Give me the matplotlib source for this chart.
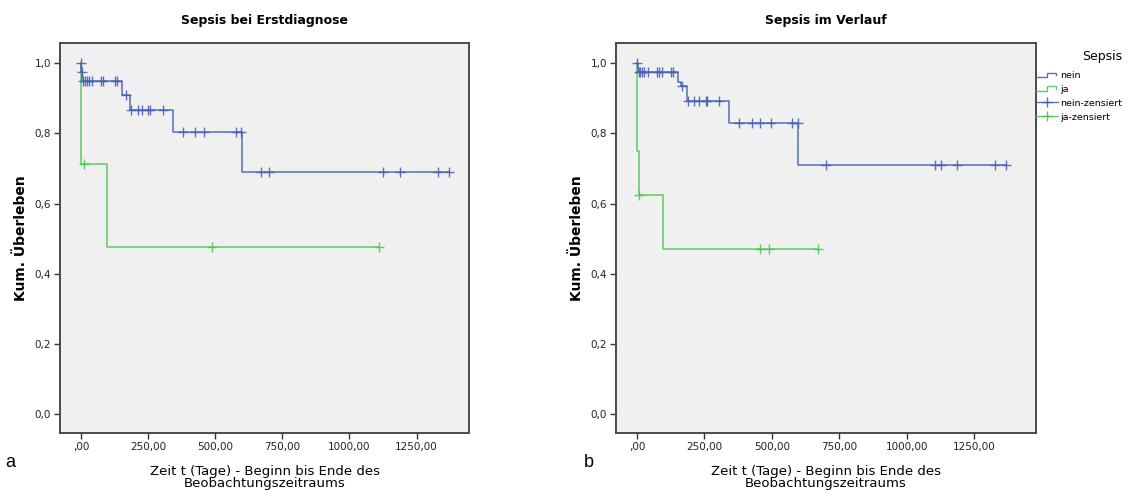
import numpy as np
import matplotlib
matplotlib.use("Agg")
import matplotlib.pyplot as plt
from matplotlib.lines import Line2D
from matplotlib.legend_handler import HandlerBase
from matplotlib.ticker import FuncFormatter, FixedLocator

# Kaplan-Meier step curves: times where the level changes, and the level from that time on
a_nein_t = [0, 2, 4, 152, 184, 342, 599, 1369]
a_nein_s = [1.0, 0.975, 0.950, 0.909, 0.867, 0.805, 0.689, 0.689]
a_nein_cens = [1, 3, 6, 15, 23, 31, 41, 73, 83, 127, 135, 166, 185, 211, 226, 251, 257,
               307, 381, 425, 458, 576, 596, 671, 700, 1126, 1189, 1329, 1369]
a_ja_t = [0, 1, 2, 96, 1110]
a_ja_s = [1.0, 0.857, 0.714, 0.476, 0.476]
a_ja_cens = [11, 489, 1110]

b_nein_t = [0, 3, 153, 163, 184, 342, 598, 1368]
b_nein_s = [1.0, 0.976, 0.947, 0.936, 0.892, 0.829, 0.709, 0.709]
b_nein_cens = [1, 6, 11, 17, 26, 41, 73, 82, 92, 126, 135, 166, 188, 211, 230, 256, 261,
               305, 379, 425, 455, 498, 576, 596, 700, 1105, 1126, 1187, 1328, 1368]
b_ja_t = [0, 0, 1, 6, 98, 672]
b_ja_s = [1.0, 0.875, 0.75, 0.625, 0.47, 0.47]
b_ja_cens = [7, 456, 490, 672]

x_ticks = [0, 250, 500, 750, 1000, 1250]
y_ticks = [0.0, 0.2, 0.4, 0.6, 0.8, 1.0]

BLUE = "#4660b4"
GREEN = "#4fc752"
W, H = 1136, 494


def level_at(t_steps, s_steps, t):
    idx = np.searchsorted(np.asarray(t_steps, float), np.asarray(t, float), side="right") - 1
    return np.asarray(s_steps)[idx]


def km_plot(ax, t, s, cens, color):
    ax.step(t, s, where="post", color=color, lw=1.1, alpha=0.9, zorder=3)
    ax.plot(cens, level_at(t, s, cens), ls="none", marker="+", ms=6.5, mew=1.0,
            color=color, alpha=0.9, zorder=4)


def style_axes(ax, title, xmax):
    ax.set_facecolor("#f0f0f0")
    for sp in ax.spines.values():
        sp.set_color("#4a4a4a")
        sp.set_linewidth(1.4)
    ax.set_xlim(-78, xmax)
    ax.set_ylim(-0.054, 1.058)
    ax.xaxis.set_major_locator(FixedLocator(x_ticks))
    ax.yaxis.set_major_locator(FixedLocator(y_ticks))
    ax.xaxis.set_major_formatter(FuncFormatter(lambda v, p: ("%.2f" % v).replace(".", ",").lstrip("0")))
    ax.yaxis.set_major_formatter(FuncFormatter(lambda v, p: ("%.1f" % v).replace(".", ",")))
    ax.tick_params(direction="out", length=4, width=1.0, color="#333333",
                   labelsize=7.5, labelcolor="#222222", pad=2.5)
    ax.set_title(title, fontsize=9, fontweight="bold", pad=14)
    ax.set_xlabel("Zeit t (Tage) - Beginn bis Ende des\nBeobachtungszeitraums",
                  fontsize=9.5, linespacing=0.95, labelpad=9)
    ax.set_ylabel("Kum. Überleben", fontsize=10, fontweight="bold", labelpad=5)


class StepHandler(HandlerBase):
    # small step glyph for the survival-curve entries
    def create_artists(self, legend, orig_handle, xdescent, ydescent, width, height,
                       fontsize, trans):
        x0 = -xdescent
        xs = [x0, x0 + 0.5 * width, x0 + 0.5 * width, x0 + 0.92 * width, x0 + 0.92 * width]
        ys = [0.15 * height, 0.15 * height, 0.85 * height, 0.85 * height, 0.45 * height]
        ys = [y - ydescent for y in ys]
        line = Line2D(xs, ys, color=orig_handle.get_color(), lw=1.0, alpha=0.9)
        line.set_transform(trans)
        return [line]


fig = plt.figure(figsize=(W / 100, H / 100), dpi=100)
ax1 = fig.add_axes([60 / W, 1 - 433 / H, 409 / W, 390 / H])
ax2 = fig.add_axes([616 / W, 1 - 433 / H, 420 / W, 390 / H])

km_plot(ax1, a_ja_t, a_ja_s, a_ja_cens, GREEN)
km_plot(ax1, a_nein_t, a_nein_s, a_nein_cens, BLUE)
style_axes(ax1, "Sepsis bei Erstdiagnose", 1445)

km_plot(ax2, b_ja_t, b_ja_s, b_ja_cens, GREEN)
km_plot(ax2, b_nein_t, b_nein_s, b_nein_cens, BLUE)
style_axes(ax2, "Sepsis im Verlauf", 1480)

h_nein = Line2D([], [], color=BLUE)
h_ja = Line2D([], [], color=GREEN)
h_nein_c = Line2D([], [], color=BLUE, marker="+", ms=7, mew=1.0, lw=1.0, alpha=0.9)
h_ja_c = Line2D([], [], color=GREEN, marker="+", ms=7, mew=1.0, lw=1.0, alpha=0.9)
leg = ax2.legend([h_nein, h_ja, h_nein_c, h_ja_c],
                 ["nein", "ja", "nein-zensiert", "ja-zensiert"],
                 handler_map={h_nein: StepHandler(), h_ja: StepHandler()},
                 title="Sepsis", loc="upper left", alignment="right",
                 bbox_to_anchor=(1036 / W, 1 - 50 / H), bbox_transform=fig.transFigure,
                 frameon=False, borderpad=0, borderaxespad=0, fontsize=6.8,
                 title_fontsize=9, handlelength=2.3, handletextpad=0.3,
                 labelspacing=0.5, numpoints=1)
leg._legend_box.sep = 6

fig.text(5 / W, 1 - 462 / H, "a", fontsize=13, family="Liberation Sans", va="center")
fig.text(584 / W, 1 - 462 / H, "b", fontsize=13, family="Liberation Sans", va="center")

fig.savefig("out.png", dpi=100, facecolor="white")
